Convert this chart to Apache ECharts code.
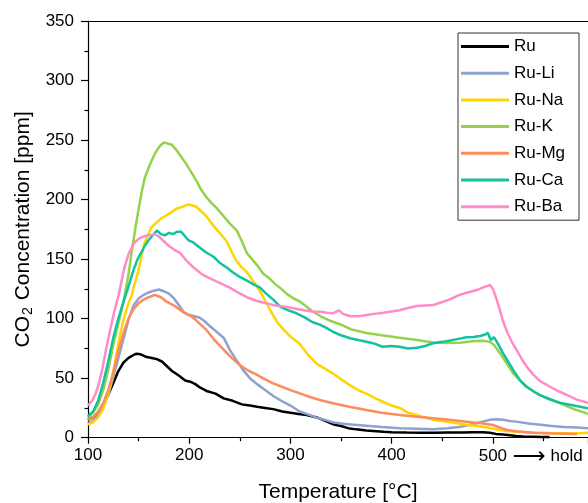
<!DOCTYPE html>
<html>
<head>
<meta charset="utf-8">
<script src="https://cdn.jsdelivr.net/npm/echarts@6/dist/echarts.min.js"></script>
<style>html,body{margin:0;padding:0;background:#fff}#c{width:588px;height:503px}</style>
</head>
<body>
<div id="c"></div>
<script>
const seriesNames = ['Ru', 'Ru-Li', 'Ru-Na', 'Ru-K', 'Ru-Mg', 'Ru-Ca', 'Ru-Ba'];
const xTickLabels = ['100', '200', '300', '400', '500'];

const tRu = [100,105,110,115,120,125,130,135,140,145,148,152,157,163,168,173,178,183,190,196,201,206,211,218,226,234,243,252,260,267,275,283,292,300,308,316,326,335,343,349,357,365,375,385,392,400,415,430,441,455,470,480,490,497,503,510,517,523,530,540,548,556];
const vRu = [15,17,21,28,36,46,56,63,67,69.5,70.5,70,68,67,66,64,60,56,52,48,47,45,42,39,37,33,31,28,27,26,25,24,22,21,20,19,17,14,11,10,8,7,6,5.5,5,4.6,4.3,4.2,4.2,4.3,4.4,4.5,4.5,4.2,3.2,2.7,2.0,1.4,1.0,0.8,0.6,0.5];

const tLi = [100,105,110,115,120,125,130,135,140,145,150,155,160,165,170,175,180,185,190,195,200,205,210,215,220,227,234,240,246,250,253,260,267,275,283,291,300,309,316,325,334,342,350,360,375,390,408,425,441,455,467,475,483,490,497,503,510,517,523,535,545,556,570,583,594];
const vLi = [12,14,19,27,36,51,67,83,99,111,117,120,122,123.5,124.5,123,121,117,111,105,103,102,101,98,94,89,84,74,66,61,57,50,45,40,35,31,27,22,20,17,15,13,12,11,10,9,8,7.5,7,8,9,10.5,12,13.5,15,15.5,15,14,13.5,12,11,10,9,8.5,8];

const tNa = [100,105,110,115,120,125,128,132,136,140,143,146,150,153,156,160,163,168,172,176,180,185,189,194,199,203,207,212,217,222,227,232,237,242,247,252,257,262,267,272,277,282,287,293,300,309,317,326,334,342,350,359,367,375,384,392,400,408,416,425,433,441,450,458,466,474,482,490,498,507,515,525,540,556,572,580,594];
const vNa = [11,13,17,24,37,55,70,88,102,113,119,129,141,153,164,172,177,181,184,186,188,191,193,194,196,195,194,190,186,180,175,170,165,156,148,143,139,133,127,120,112,104,97,91,85,79,70,62,58,54,49,44,40,37,33,30,27,25,21,19,17,15,14,13,12,10.7,10,9.2,8,6.5,5.5,5,4.2,3.9,3.7,3.5,4.2];

const tK = [100,105,110,115,120,125,130,135,140,143,147,150,153,156,160,163,167,171,175,179,183,187,192,197,202,207,212,217,222,227,234,240,247,252,257,262,267,273,279,285,291,296,303,310,316,322,330,340,350,360,375,390,408,425,441,455,467,480,490,497,501,507,514,520,527,533,540,546,556,566,580,594];
const vK = [17,21,28,40,57,78,96,114,137,155,177,192,206,218,227,233,240,245,248,247,246,242,236,230,223,216,208,202,197,193,186,180,174,165,155,150,145,138,134,129,125,121,117,114,110,106,102,98,95,91,88,86,84,82,80,79.5,79.8,81,81.5,80.5,78,71,62,54,48,43,39,36,32,29,24,20];

const tMg = [100,105,110,115,120,125,130,135,140,145,150,155,160,166,172,178,185,190,195,200,205,210,217,225,234,242,250,258,267,275,283,291,300,310,320,330,342,358,375,390,408,425,441,457,474,490,500,507,514,525,540,560,583];
const vMg = [15,17,22,29,40,55,73,88,100,108,113,116,118,120,118,114,111,108,105,103,100,96,90.5,82,74,67,61,56.5,52.7,49,45.7,43,40,37,34,31.5,29,26,23.3,21,19.1,17.5,16.3,15,13.4,12,10.7,8.5,6.5,5.2,4.2,3.6,3.1];

const tCa = [100,105,110,115,120,125,130,135,140,145,149,153,156,160,164,168,172,176,180,184,188,192,195,199,204,210,216,224,230,237,243,250,257,263,270,276,283,290,298,306,314,322,329,336,342,350,359,367,375,383,391,400,408,416,425,433,441,450,457,466,474,481,487,492,495,498,501,505,510,515,520,527,533,540,546,556,566,580,594];
const vCa = [18,22,31,46,64,84,100,114,127,141,150,156,161,166,170,174,171,170,172,171,173,173,170,166,164,160,156,152,147,143,139,135,132,129,126,121,116,110,107,104.5,101,97,95,92,89,86,83.5,82,80.6,79,76.4,77,76.4,75,75.6,77,79.3,80.5,81.5,83,84.3,84.5,85.4,86.5,88,82,84.5,79,71,64,57,48,43,39,36,32.5,29.4,27,24.7];

const tBa = [100,104,107,110,114,118,122,126,130,133,136,140,145,150,155,160,166,170,175,180,185,191,197,203,207,213,220,230,240,248,257,266,276,285,295,303,313,322,330,336,342,348,352,359,367,375,383,392,400,408,416,425,433,441,450,457,467,475,484,490,495,497,500,503,507,510,514,519,524,530,535,540,546,556,565,573,583,594];
const vBa = [27,31,36,43,57,75,91,106,119,131,143,154,163,167,169,170,171,169,165,161,158,155,149,144,141,137,134,130,126,122,118,115,113,111,110,108.7,107,106,105.8,105,104.5,107,104,102,102,103,104,105,106,107,109,110.6,111,111.4,114,116,120,122,124,126,127.5,128.5,125,118,107,98,89,80,73,64,58,53,48,43,39,36,32,29.4];

const colors = ['#000000', '#8EA2CE', '#FFD500', '#94D24C', '#FC8B5E', '#12C1A0', '#FF8CC6'];
const temps = [tRu, tLi, tNa, tK, tMg, tCa, tBa];
const vals = [vRu, vLi, vNa, vK, vMg, vCa, vBa];

const FONT = '"Liberation Sans", Arial, sans-serif';
const chart = echarts.init(document.getElementById('c'), null, {renderer: 'canvas'});

const series = seriesNames.map((n, i) => ({
  name: n,
  type: 'line',
  data: temps[i].map((t, j) => [t, vals[i][j]]),
  showSymbol: false,
  symbol: 'none',
  smooth: false,
  lineStyle: {color: colors[i], width: 2.5},
  itemStyle: {color: colors[i]},
  animation: false,
  z: 2 + i
}));

chart.setOption({
  animation: false,
  backgroundColor: '#fff',
  grid: {left: 88, right: 0, top: 21, bottom: 65.3, containLabel: false, outerBoundsMode: 'none'},
  legend: {
    orient: 'vertical',
    left: 458, top: 33,
    data: seriesNames,
    icon: 'rect',
    itemWidth: 48, itemHeight: 3,
    itemGap: 6.7,
    padding: [3.5, 14, 3.5, 3],
    borderColor: '#333', borderWidth: 1,
    backgroundColor: '#fff',
    textStyle: {fontSize: 17, color: '#000', fontFamily: FONT, lineHeight: 20}
  },
  xAxis: [{
    type: 'value', min: 100, max: 594, interval: 100,
    position: 'bottom',
    name: 'Temperature [°C]', nameLocation: 'middle', nameGap: 44,
    nameTextStyle: {fontSize: 21, color: '#000', fontFamily: FONT},
    axisLine: {show: true, lineStyle: {color: '#000', width: 1.2}},
    axisTick: {show: true, inside: false, length: 6, lineStyle: {color: '#000', width: 1.2}},
    minorTick: {show: true, splitNumber: 2, length: 3.5, lineStyle: {color: '#000', width: 1.2}},
    splitLine: {show: false},
    axisLabel: {
      margin: 9, fontSize: 17, color: '#000', fontFamily: FONT,
      showMaxLabel: false,
      formatter: function (v) {
        const s = String(v);
        if (xTickLabels.indexOf(s) < 0) return '';
        if (s === '500') return '{p|}' + s + '{g|}{a|⟶}{g2|}{h|hold}';
        return s;
      },
      rich: {
        p: {width: 76},
        g: {width: 7},
        a: {width: 30, fontSize: 23, color: '#000', fontFamily: 'DejaVu Sans', lineHeight: 20},
        g2: {width: 6},
        h: {width: 33, fontSize: 17, color: '#000', fontFamily: FONT}
      }
    }
  }, {
    type: 'value', min: 100, max: 594, position: 'top',
    axisLine: {show: true, onZero: false, lineStyle: {color: '#000', width: 1.2}},
    axisTick: {show: false}, axisLabel: {show: false}, splitLine: {show: false}
  }],
  yAxis: {
    type: 'value', min: 0, max: 350, interval: 50,
    name: '{m|CO}{s|2}{m| Concentration [ppm]}',
    nameLocation: 'middle', nameGap: 49,
    nameTextStyle: {
      color: '#000', fontFamily: FONT,
      rich: {
        m: {fontSize: 21, color: '#000', fontFamily: FONT, lineHeight: 24},
        s: {fontSize: 14, color: '#000', fontFamily: FONT, lineHeight: 24, verticalAlign: 'bottom', padding: [10, 1, 0, 1]}
      }
    },
    axisLine: {show: true, lineStyle: {color: '#000', width: 1.2}},
    axisTick: {show: true, inside: false, length: 7, lineStyle: {color: '#000', width: 1.2}},
    minorTick: {show: true, splitNumber: 2, length: 3.5, lineStyle: {color: '#000', width: 1.2}},
    splitLine: {show: false},
    axisLabel: {margin: 14, fontSize: 17, color: '#000', fontFamily: FONT}
  },
  series: series
});
</script>
</body>
</html>
